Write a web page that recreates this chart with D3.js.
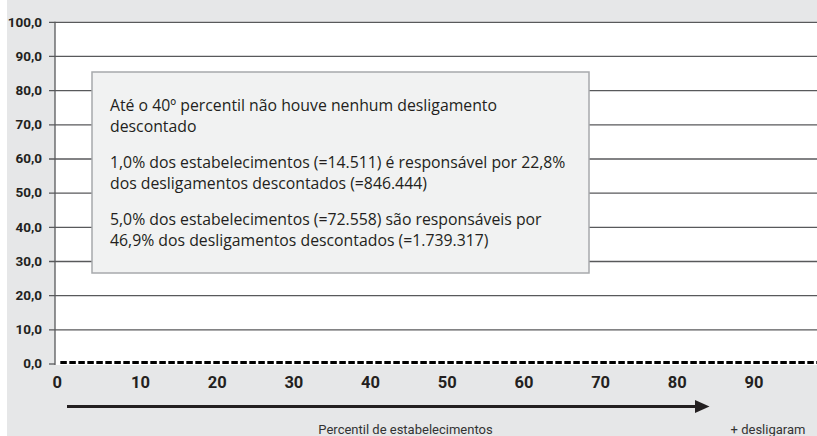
<!DOCTYPE html>
<html>
<head>
<meta charset="utf-8">
<script src="https://cdn.jsdelivr.net/npm/d3@7"></script>
<style>
  body { margin: 0; background: #fff; }
  svg { display: block; }
</style>
</head>
<body>
<script>
// chart data
var percentis = [0, 10, 20, 30, 40, 50, 60, 70, 80, 90, 100];
var desligamentos = [0, 0, 0, 0, 0, 0, 0, 0, 0, 0, 0];
var yTicks = [0, 10, 20, 30, 40, 50, 60, 70, 80, 90, 100];
var xTicks = [0, 10, 20, 30, 40, 50, 60, 70, 80, 90];
var notas = [
    ["Até o 40º percentil não houve nenhum desligamento", "descontado"],
    ["1,0% dos estabelecimentos (=14.511) é responsável por 22,8%", "dos desligamentos descontados (=846.444)"],
    ["5,0% dos estabelecimentos (=72.558) são responsáveis por", "46,9% dos desligamentos descontados (=1.739.317)"]
];
var xTitulo = "Percentil de estabelecimentos";
var xExtra = "+ desligaram";

var W = 817, H = 436;
var plotLeft = 55, plotRight = 817;

// scales
var x = d3.scaleLinear().domain([10, 90]).range([140, 753.5]);
var y = d3.scaleLinear().domain([0, 100]).range([363.5, 21.8]);

var svg = d3.select("body").append("svg")
    .attr("width", W)
    .attr("height", H);

// background
svg.append("rect")
    .attr("x", 7).attr("y", 0)
    .attr("width", W - 7).attr("height", H)
    .attr("fill", "#e6e7e8");

// plot area
svg.append("rect")
    .attr("x", plotLeft).attr("y", y(100))
    .attr("width", plotRight - plotLeft)
    .attr("height", y(0) - y(100) + 1.5)
    .attr("fill", "#fff");

// y axis with grid lines
var yAxis = svg.append("g")
    .attr("transform", "translate(" + plotLeft + ",0)")
    .call(d3.axisLeft(y)
        .tickValues(yTicks)
        .tickSize(6)
        .tickPadding(7)
        .tickFormat(function(d) { return d3.format(".1f")(d).replace(".", ","); }));

yAxis.select(".domain").remove();
yAxis.selectAll(".tick line")
    .attr("x2", function(d) { return d === 0 ? 0 : plotRight - plotLeft; })
    .attr("x1", -6)
    .attr("stroke", "#58595b")
    .attr("stroke-width", 1.3);
yAxis.selectAll(".tick text")
    .attr("fill", "#231f20")
    .style("font-family", "Roboto, sans-serif")
    .style("font-weight", "bold")
    .style("font-size", "13.5px");

// left frame line
svg.append("line")
    .attr("x1", plotLeft).attr("x2", plotLeft)
    .attr("y1", y(100)).attr("y2", y(0) + 1.5)
    .attr("stroke", "#58595b")
    .attr("stroke-width", 1.3);

// x axis labels
var xAxis = svg.append("g")
    .attr("transform", "translate(0," + y(0) + ")")
    .call(d3.axisBottom(x)
        .tickValues(xTicks)
        .tickSize(0)
        .tickPadding(13)
        .tickFormat(d3.format("d")));

xAxis.select(".domain").remove();
xAxis.selectAll(".tick text")
    .attr("fill", "#231f20")
    .attr("dx", function(d) { return d === 0 ? -6.6 : 0; })
    .style("font-family", "Roboto, sans-serif")
    .style("font-weight", "bold")
    .style("font-size", "16.5px");

// dashed series line
var line = d3.line()
    .x(function(d, i) { return x(percentis[i]); })
    .y(function(d) { return y(d); });

svg.append("path")
    .datum(desligamentos)
    .attr("d", line)
    .attr("transform", "translate(-3,-1)")
    .attr("fill", "none")
    .attr("stroke", "#000")
    .attr("stroke-width", 3)
    .attr("stroke-dasharray", "6.5,2.5");

// annotation box
svg.append("rect")
    .attr("x", 92).attr("y", 72)
    .attr("width", 497).attr("height", 201)
    .attr("fill", "#f1f2f2")
    .attr("stroke", "#a7a9ac")
    .attr("stroke-width", 1.5);

var nota = svg.append("g")
    .style("font-family", "'Open Sans', sans-serif")
    .style("font-size", "15.8px")
    .attr("fill", "#231f20");

notas.forEach(function(par, i) {
    par.forEach(function(txt, j) {
        nota.append("text")
            .attr("x", 110)
            .attr("y", 111 + i * 57 + j * 21)
            .text(txt);
    });
});

// arrow below the axis
svg.append("line")
    .attr("x1", 67).attr("x2", 697)
    .attr("y1", 406.5).attr("y2", 406.5)
    .attr("stroke", "#231f20")
    .attr("stroke-width", 2.8);

svg.append("path")
    .attr("d", "M695,400L709.5,406.5L695,413Z")
    .attr("fill", "#231f20");

// axis titles
svg.append("text")
    .attr("x", 405.5).attr("y", 434)
    .attr("text-anchor", "middle")
    .attr("fill", "#333")
    .style("font-family", "Roboto, sans-serif")
    .style("font-size", "13px")
    .text(xTitulo);

svg.append("text")
    .attr("x", 768).attr("y", 434)
    .attr("text-anchor", "middle")
    .attr("fill", "#333")
    .style("font-family", "Roboto, sans-serif")
    .style("font-size", "13px")
    .text(xExtra);
</script>
</body>
</html>
